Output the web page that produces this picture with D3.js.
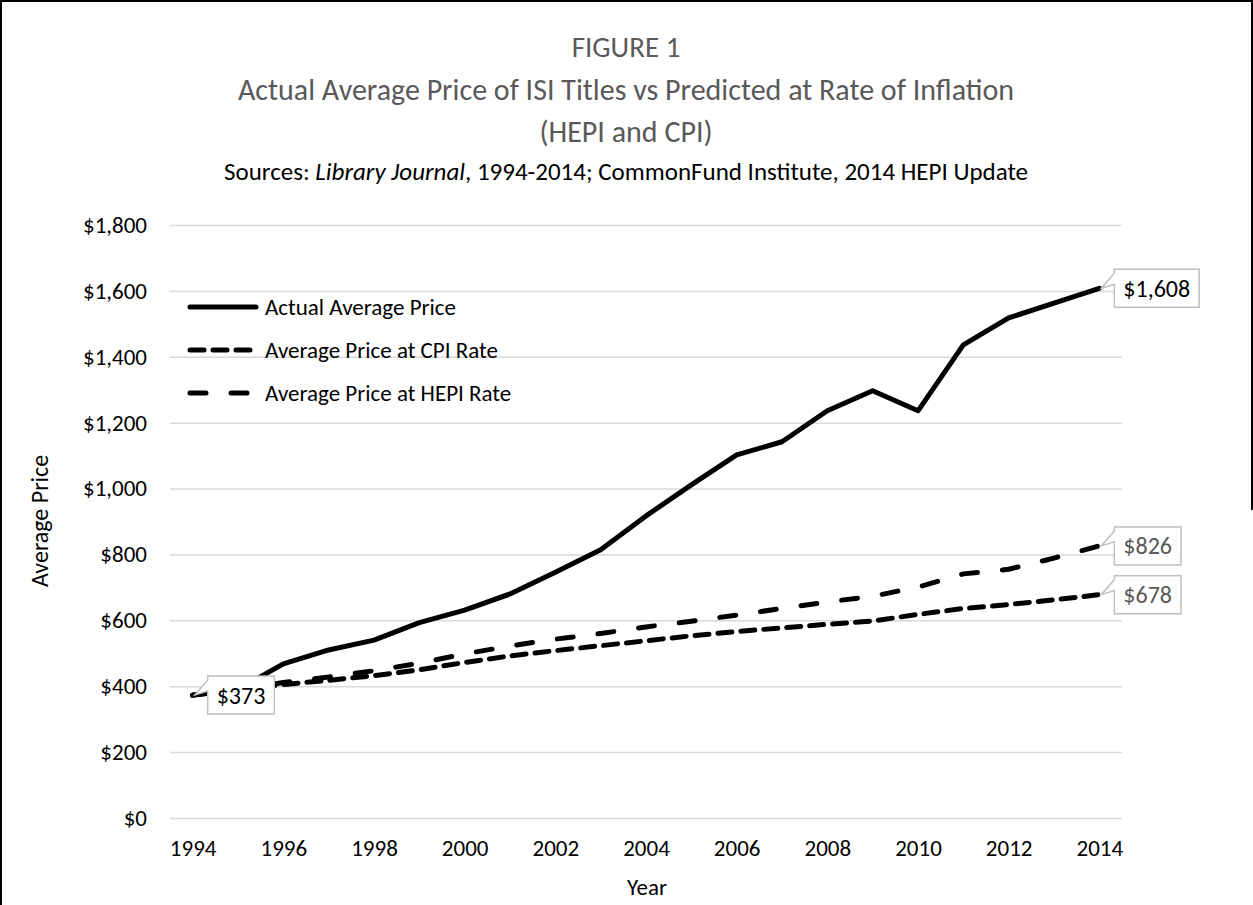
<!DOCTYPE html>
<html>
<head>
<meta charset="utf-8">
<script src="https://cdn.jsdelivr.net/npm/d3@7"></script>
<style>
  body { margin: 0; background: #fff; }
  text { font-family: Carlito, Calibri, Lato, sans-serif; }
</style>
</head>
<body>
<div id="main"></div>
<script>
// donnees
const years = [1994, 1995, 1996, 1997, 1998, 1999, 2000, 2001, 2002, 2003, 2004,
               2005, 2006, 2007, 2008, 2009, 2010, 2011, 2012, 2013, 2014];
const actual = [373, 390, 468, 510, 540, 593, 631, 680, 746, 814, 917,
                1011, 1102, 1142, 1236, 1297, 1236, 1436, 1518, 1563, 1608];
const cpi = [373, 390, 405, 418, 432, 450, 472, 492, 508, 523, 538,
             553, 566, 577, 588, 598, 618, 636, 648, 662, 678];
const hepi = [373, 391, 411, 428, 447, 470, 498, 522, 543, 560, 580,
              597, 616, 636, 656, 673, 701, 741, 755, 789, 826];
const yTicks = [0, 200, 400, 600, 800, 1000, 1200, 1400, 1600, 1800];
const xTicks = [1994, 1996, 1998, 2000, 2002, 2004, 2006, 2008, 2010, 2012, 2014];
const seriesNames = ["Actual Average Price", "Average Price at CPI Rate", "Average Price at HEPI Rate"];

const W = 1253, H = 905;
const m = { left: 170, right: 1122, top: 225, bottom: 818 };
const FONT = "Carlito, Calibri, Lato, sans-serif";

const svg = d3.select("#main").append("svg")
  .attr("width", W).attr("height", H);

// cadre
svg.append("path")
  .attr("d", `M1,${H} V1 H${W - 1} V510`)
  .attr("fill", "none").attr("stroke", "#000").attr("stroke-width", 2);

const x = d3.scalePoint().domain(years).range([m.left, m.right]).padding(0.5);
const y = d3.scaleLinear().domain([0, 1800]).range([m.bottom, m.top]);
const money = d3.format("$,");

// grille
svg.append("g")
  .attr("transform", `translate(${m.left},0)`)
  .call(d3.axisLeft(y).tickValues(yTicks).tickSize(-(m.right - m.left)).tickFormat(""))
  .call(g => g.select(".domain").remove())
  .call(g => g.selectAll("line").attr("stroke", "#d9d9d9").attr("stroke-width", 1.5));

// eixo Y
svg.append("g")
  .attr("transform", `translate(${m.left},0)`)
  .call(d3.axisLeft(y).tickValues(yTicks).tickSize(0).tickPadding(23).tickFormat(money))
  .call(g => g.select(".domain").remove())
  .call(g => g.selectAll("text").attr("font-size", 23).attr("fill", "#000")
    .attr("font-family", FONT));

// eixo X
svg.append("g")
  .attr("transform", `translate(0,${m.bottom})`)
  .call(d3.axisBottom(x).tickValues(xTicks).tickSize(0).tickPadding(22))
  .call(g => g.select(".domain").remove())
  .call(g => g.selectAll("text").attr("font-size", 23).attr("fill", "#000")
    .attr("font-family", FONT));

// linhas
const styles = [
  { data: actual, dash: null },
  { data: cpi, dash: "14,9" },
  { data: hepi, dash: "16,25" }
];
const line = d3.line().x((d, i) => x(years[i])).y(d => y(d));

styles.forEach(s => {
  svg.append("path")
    .datum(s.data)
    .attr("d", line)
    .attr("fill", "none")
    .attr("stroke", "#000")
    .attr("stroke-width", 5)
    .attr("stroke-linejoin", "round")
    .attr("stroke-linecap", "round")
    .attr("stroke-dasharray", s.dash);
});

// legenda
const leg = svg.append("g");
seriesNames.forEach((name, i) => {
  const ly = 307 + i * 43;
  leg.append("line")
    .attr("x1", 190).attr("x2", 256).attr("y1", ly).attr("y2", ly)
    .attr("stroke", "#000").attr("stroke-width", 5)
    .attr("stroke-linecap", "round")
    .attr("stroke-dasharray", styles[i].dash);
  leg.append("text")
    .attr("x", 265).attr("y", ly).attr("dy", "0.35em")
    .attr("font-size", 23).attr("fill", "#000")
    .text(name);
});

// etiquetas (callouts)
const callouts = [
  { data: actual, idx: 20, color: "#000" },
  { data: hepi, idx: 20, color: "#595959" },
  { data: cpi, idx: 20, color: "#595959" },
  { data: actual, idx: 0, color: "#000" }
];
callouts.forEach(c => {
  const px = x(years[c.idx]), py = y(c.data[c.idx]);
  const g = svg.append("g");
  const path = g.append("path");
  const t = g.append("text")
    .attr("font-size", 24).attr("fill", c.color)
    .attr("text-anchor", "middle")
    .text(money(c.data[c.idx]));
  const tw = t.node().getComputedTextLength();
  const bw = tw + 18, bh = 38;
  const L = px + 15, R = L + bw, T = py - bh / 2, B = py + bh / 2;
  path.attr("d", `M${L},${T} H${R} V${B} H${L} V${T + 15} L${px + 2},${py} L${L},${T + 4} Z`)
    .attr("fill", "#fff").attr("stroke", "#bfbfbf").attr("stroke-width", 1.5);
  t.attr("x", L + bw / 2).attr("y", py).attr("dy", "0.35em");
});

// titulo
const title = svg.append("g").attr("text-anchor", "middle");
title.append("text").attr("x", 626).attr("y", 57)
  .attr("font-size", 29).attr("fill", "#595959").text("FIGURE 1");
title.append("text").attr("x", 626).attr("y", 100)
  .attr("font-size", 30).attr("fill", "#595959")
  .text("Actual Average Price of ISI Titles vs Predicted at Rate of Inflation");
title.append("text").attr("x", 626).attr("y", 142)
  .attr("font-size", 30).attr("fill", "#595959").text("(HEPI and CPI)");
const sub = title.append("text").attr("x", 626).attr("y", 180)
  .attr("font-size", 25).attr("fill", "#000");
sub.append("tspan").text("Sources: ");
sub.append("tspan").attr("font-style", "italic").text("Library Journal");
sub.append("tspan").text(", 1994-2014; CommonFund Institute, 2014 HEPI Update");

// rotulos dos eixos
svg.append("text")
  .attr("transform", "translate(48,521) rotate(-90)")
  .attr("text-anchor", "middle").attr("font-size", 24).attr("fill", "#000")
  .text("Average Price");
svg.append("text")
  .attr("x", 647).attr("y", 895)
  .attr("text-anchor", "middle").attr("font-size", 23).attr("fill", "#000")
  .text("Year");
</script>
</body>
</html>
